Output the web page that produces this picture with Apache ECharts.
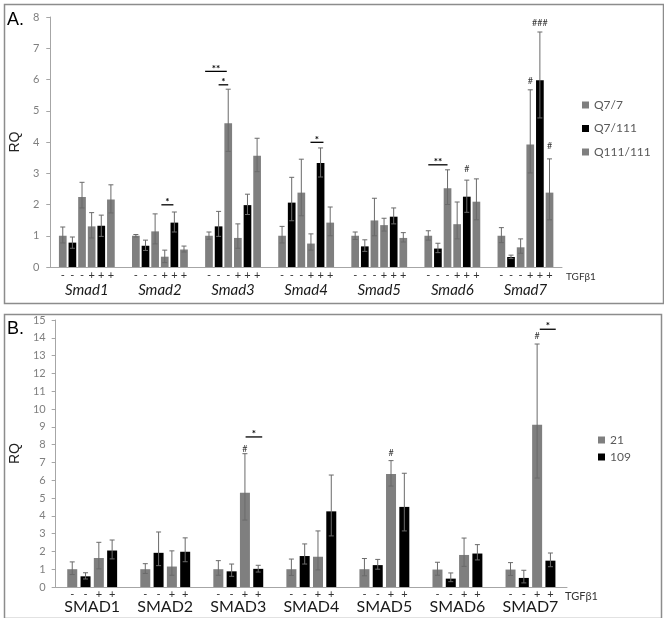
<!DOCTYPE html>
<html><head><meta charset="utf-8">
<script src="https://cdn.jsdelivr.net/npm/echarts@6/dist/echarts.min.js"></script>
<style>html,body{margin:0;padding:0;background:#fff}#c{width:664px;height:618px}</style>
</head><body><div id="c"></div>
<script>
// ---------- Panel A data ----------
const catsA = ['Smad1','Smad2','Smad3','Smad4','Smad5','Smad6','Smad7'];
const namesA = ['Q7/7','Q7/111','Q111/111','Q7/7','Q7/111','Q111/111'];
const signsA = ['-','-','-','+','+','+'];
const rqA = [
  [1.00,1.00,1.00,1.00,1.00,1.00,1.00],
  [0.78,0.68,1.30,2.06,0.66,0.59,0.32],
  [2.24,1.14,4.60,2.38,1.49,2.52,0.63],
  [1.30,0.33,0.93,0.75,1.34,1.37,3.92],
  [1.32,1.42,1.98,3.33,1.61,2.25,5.98],
  [2.16,0.56,3.56,1.42,0.93,2.09,2.38]
];
const hiA = [
  [1.28,1.04,1.12,1.30,1.12,1.16,1.26],
  [0.96,0.86,1.78,2.87,0.87,0.76,0.38],
  [2.71,1.70,5.69,3.45,2.20,3.11,0.90],
  [1.74,0.54,1.38,1.06,1.56,2.08,5.67],
  [1.66,1.76,2.33,3.81,1.89,2.78,7.52],
  [2.63,0.67,4.12,1.92,1.10,2.82,3.46]
];
const loA = [
  [0.77,0.96,0.89,0.77,0.88,0.86,0.78],
  [0.60,0.53,0.98,1.48,0.50,0.46,0.27],
  [1.89,0.74,3.70,1.64,1.00,2.00,0.44],
  [0.93,0.14,0.60,0.54,1.15,0.90,3.01],
  [0.98,1.12,1.68,2.88,1.38,1.75,4.77],
  [1.73,0.48,3.05,1.00,0.80,1.51,1.51]
];
// significance bars: [category, fromBar, toBar, y, label]
const sigA = [[1,2.65,3.9,1.99,'*'],[2,-0.4,1.85,6.26,'**'],[2,1,2,5.83,'*'],[3,2.95,4.3,3.99,'*'],[5,0,2,3.27,'**']];
// hash marks: [category, bar, y, label]
const hashA = [[5,4,3.14,'#'],[6,3,5.94,'#'],[6,4,7.79,'###'],[6,5,3.86,'#']];
const ticksA = {min:0,max:8,interval:1};

// ---------- Panel B data ----------
const catsB = ['SMAD1','SMAD2','SMAD3','SMAD4','SMAD5','SMAD6','SMAD7'];
const namesB = ['21','109','21','109'];
const signsB = ['-','-','+','+'];
const rqB = [
  [1.00,1.00,1.00,1.00,1.00,0.98,0.98],
  [0.60,1.92,0.88,1.74,1.23,0.47,0.51],
  [1.63,1.15,5.30,1.70,6.35,1.80,9.12],
  [2.05,1.98,1.02,4.25,4.50,1.88,1.48]
];
const hiB = [
  [1.41,1.31,1.48,1.57,1.60,1.39,1.37],
  [0.80,3.09,1.29,2.42,1.55,0.79,0.94],
  [2.51,2.03,7.49,3.15,7.10,2.75,13.65],
  [2.64,2.76,1.22,6.29,6.39,2.38,1.91]
];
const loB = [
  [0.70,0.76,0.66,0.65,0.63,0.66,0.65],
  [0.45,1.20,0.60,1.29,1.00,0.30,0.23],
  [1.02,0.66,3.76,0.96,5.67,1.16,6.12],
  [1.58,1.42,0.84,2.87,3.15,1.52,1.14]
];
const sigB = [[2,2.05,3.3,8.43,'*'],[6,2.2,3.4,14.48,'*']];
const hashB = [[2,2,7.77,'#'],[4,2,7.5,'#'],[6,2,14.1,'#']];
const ticksB = {min:0,max:15,interval:1};

// ---------- styles ----------
const GRAY = '#7f7f7f', BLACK = '#000000';
const colorA = [GRAY,BLACK,GRAY,GRAY,BLACK,GRAY];
const colorB = [GRAY,BLACK,GRAY,BLACK];
const BW_A = 7.7, GAP_A = 0.25, BW_B = 10, GAP_B = 0.33;
const FONT = 'Lato, "Open Sans", sans-serif';
const AXC = '#a6a6a6';

function barX(api, cat, j, n, bw, gap) {
  const c = api.coord([cat, 0])[0];
  return c + (j - (n - 1) / 2) * bw * (1 + gap);
}
function errRender(n, bw, gap) {
  return function (params, api) {
    const cat = api.value(0), j = api.value(1);
    const x = barX(api, cat, j, n, bw, gap);
    const yl = api.coord([cat, api.value(2)])[1];
    const yh = api.coord([cat, api.value(3)])[1];
    const cap = 2.5, st = {stroke: '#6a6a6a', lineWidth: 1};
    return {type: 'group', children: [
      {type: 'line', shape: {x1: x, y1: yl, x2: x, y2: yh}, style: st},
      {type: 'line', shape: {x1: x - cap, y1: yh, x2: x + cap, y2: yh}, style: st},
      {type: 'line', shape: {x1: x - cap, y1: yl, x2: x + cap, y2: yl}, style: st}
    ]};
  };
}
function sigRender(n, bw, gap) {
  return function (params, api) {
    const cat = api.value(0);
    const x1 = barX(api, cat, api.value(1), n, bw, gap);
    const x2 = barX(api, cat, api.value(2), n, bw, gap);
    const y = api.coord([cat, api.value(3)])[1];
    const lab = api.value(4);
    return {type: 'group', children: [
      {type: 'line', shape: {x1: x1, y1: y, x2: x2, y2: y}, style: {stroke: '#000', lineWidth: 1.3}},
      {type: 'text', style: {text: lab, x: (x1 + x2) / 2, y: y + 2, align: 'center', verticalAlign: 'bottom',
        fill: '#000', font: 'bold 10px ' + FONT}}
    ]};
  };
}
function hashRender(n, bw, gap) {
  return function (params, api) {
    const cat = api.value(0);
    const x = barX(api, cat, api.value(1), n, bw, gap);
    const y = api.coord([cat, api.value(2)])[1];
    return {type: 'text', style: {text: api.value(3), x: x, y: y, align: 'center', verticalAlign: 'middle',
      fill: '#333', font: '9px ' + FONT}};
  };
}

const series = [];
rqA.forEach((arr, j) => series.push({
  type: 'bar', name: namesA[j], xAxisIndex: 0, yAxisIndex: 0, data: arr,
  barWidth: BW_A, barGap: (GAP_A * 100) + '%', itemStyle: {color: colorA[j]},
  label: {show: true, position: 'bottom', distance: 3, formatter: signsA[j], fontSize: 11, color: '#333', fontFamily: FONT},
  emphasis: {disabled: true}
}));
rqB.forEach((arr, j) => series.push({
  type: 'bar', name: namesB[j], xAxisIndex: 1, yAxisIndex: 1, data: arr,
  barWidth: BW_B, barGap: (GAP_B * 100) + '%', itemStyle: {color: colorB[j]},
  label: {show: true, position: 'bottom', distance: 2, formatter: signsB[j], fontSize: 11, color: '#333', fontFamily: FONT},
  emphasis: {disabled: true}
}));
function errData(lo, hi) {
  const out = [];
  lo.forEach((arr, j) => arr.forEach((v, c) => out.push([c, j, v, hi[j][c]])));
  return out;
}
series.push({type: 'custom', xAxisIndex: 0, yAxisIndex: 0, z: 5, renderItem: errRender(6, BW_A, GAP_A),
  data: errData(loA, hiA), encode: {x: 0, y: [2, 3]}, silent: true});
series.push({type: 'custom', xAxisIndex: 1, yAxisIndex: 1, z: 5, renderItem: errRender(4, BW_B, GAP_B),
  data: errData(loB, hiB), encode: {x: 0, y: [2, 3]}, silent: true});
series.push({type: 'custom', xAxisIndex: 0, yAxisIndex: 0, z: 6, renderItem: sigRender(6, BW_A, GAP_A),
  data: sigA, encode: {x: 0, y: 3}, silent: true});
series.push({type: 'custom', xAxisIndex: 1, yAxisIndex: 1, z: 6, renderItem: sigRender(4, BW_B, GAP_B),
  data: sigB, encode: {x: 0, y: 3}, silent: true});
series.push({type: 'custom', xAxisIndex: 0, yAxisIndex: 0, z: 6, renderItem: hashRender(6, BW_A, GAP_A),
  data: hashA, encode: {x: 0, y: 2}, silent: true});
series.push({type: 'custom', xAxisIndex: 1, yAxisIndex: 1, z: 6, renderItem: hashRender(4, BW_B, GAP_B),
  data: hashB, encode: {x: 0, y: 2}, silent: true});

const yAxisCommon = {
  type: 'value', splitLine: {show: false},
  axisLine: {show: true, lineStyle: {color: AXC}},
  axisTick: {show: true, length: 4, lineStyle: {color: AXC}},
  axisLabel: {color: '#7f7f7f', fontSize: 11, fontFamily: FONT},
  name: 'RQ', nameLocation: 'middle', nameRotate: 90,
  nameTextStyle: {color: '#222', fontSize: 14, fontFamily: '"Liberation Sans", Arial, sans-serif'}
};

const chart = echarts.init(document.getElementById('c'), null, {renderer: 'canvas'});
chart.setOption({
  animation: false,
  backgroundColor: '#fff',
  grid: [
    {left: 49, right: 102, top: 17, bottom: 351, containLabel: false},
    {left: 47, right: 97, top: 320, bottom: 31, containLabel: false}
  ],
  xAxis: [
    {type: 'category', gridIndex: 0, data: catsA,
     axisLine: {lineStyle: {color: AXC}}, axisTick: {show: false},
     axisLabel: {margin: 16, fontStyle: 'italic', fontSize: 15, color: '#1a1a1a', fontFamily: FONT},
     name: 'TGFβ1', nameLocation: 'end', nameGap: 4,
     nameTextStyle: {color: '#333', fontSize: 10, fontFamily: FONT, verticalAlign: 'top', lineHeight: 20}},
    {type: 'category', gridIndex: 1, data: catsB,
     axisLine: {lineStyle: {color: AXC}}, axisTick: {show: false},
     axisLabel: {margin: 12, fontSize: 16, color: '#1a1a1a', fontFamily: FONT},
     name: 'TGFβ1', nameLocation: 'end', nameGap: -2,
     nameTextStyle: {color: '#333', fontSize: 11, fontFamily: FONT, verticalAlign: 'top', lineHeight: 19}}
  ],
  yAxis: [
    Object.assign({}, yAxisCommon, {gridIndex: 0, min: ticksA.min, max: ticksA.max, interval: ticksA.interval, nameGap: 27,
      axisLabel: Object.assign({}, yAxisCommon.axisLabel, {margin: 11})}),
    Object.assign({}, yAxisCommon, {gridIndex: 1, min: ticksB.min, max: ticksB.max, interval: ticksB.interval, nameGap: 25,
      axisLabel: Object.assign({}, yAxisCommon.axisLabel, {margin: 10})})
  ],
  legend: [
    {data: ['Q7/7','Q7/111','Q111/111'], orient: 'vertical', left: 577, top: 94, itemWidth: 7, itemHeight: 7,
     itemGap: 11.5, icon: 'rect', selectedMode: false, textStyle: {color: '#595959', fontSize: 12, fontFamily: FONT}},
    {data: ['21','109'], orient: 'vertical', left: 593, top: 429, itemWidth: 7, itemHeight: 7,
     itemGap: 5, icon: 'rect', selectedMode: false, textStyle: {color: '#595959', fontSize: 12, fontFamily: FONT}}
  ],
  graphic: [
    {type: 'rect', left: 2, top: 2, shape: {width: 659, height: 299}, style: {fill: 'none', stroke: '#8c8c8c', lineWidth: 1.5}, silent: true},
    {type: 'rect', left: 2, top: 312, shape: {width: 657, height: 304}, style: {fill: 'none', stroke: '#8c8c8c', lineWidth: 1.5}, silent: true},
    {type: 'text', left: 7, top: 11, style: {text: 'A.', fill: '#000', font: '18px "Liberation Sans", Arial, sans-serif'}},
    {type: 'text', left: 7, top: 320, style: {text: 'B.', fill: '#000', font: '18px "Liberation Sans", Arial, sans-serif'}}
  ],
  series: series
});
</script></body></html>
